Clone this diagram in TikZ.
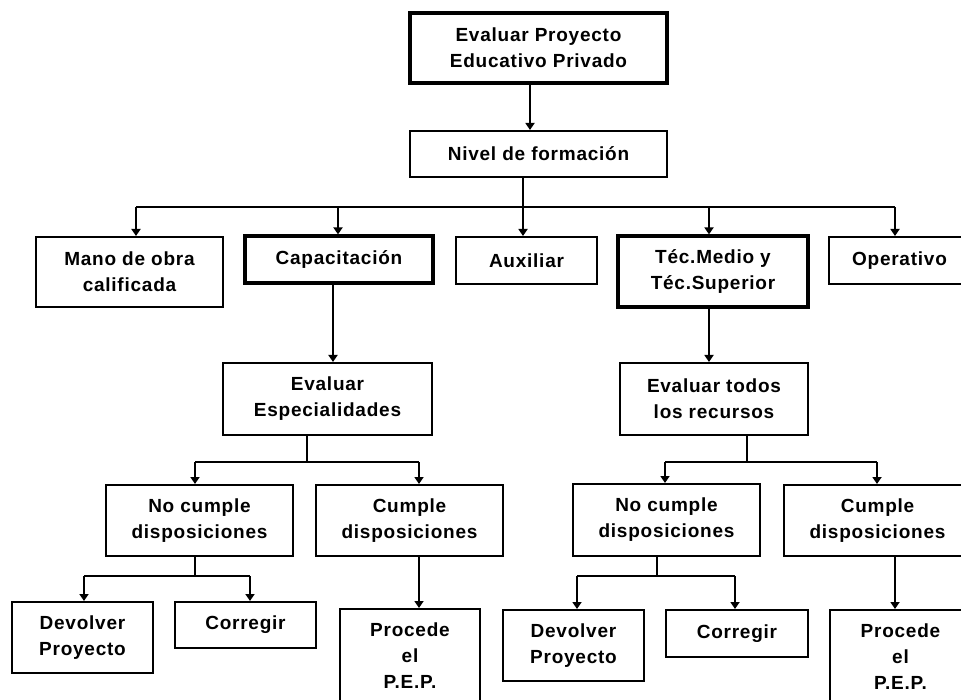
\documentclass[tikz,border=0pt]{standalone}
\usepackage{fontspec}
\usetikzlibrary{arrows.meta}
\newfontfamily\boxfont{Liberation Sans}[LetterSpace=4]
\begin{document}
\begin{tikzpicture}[x=1pt,y=-1pt,
  box/.style={draw, line width=2pt, inner sep=0pt, align=center,
    font=\boxfont\bfseries\fontsize{19}{26}\selectfont},
  thickbox/.style={box, line width=3.2pt},
  link/.style={line width=2pt},
  thinlink/.style={line width=1.2pt},
  arr/.style={line width=2pt, -{Triangle[width=9pt,length=7pt]}}]
\useasboundingbox (0,0) rectangle (961,700);
\clip (0,0) rectangle (961,700);

% level 0 and 1
\node[thickbox, minimum width=257, minimum height=70] (top) at (538.5,48) {Evaluar Proyecto\\Educativo Privado};
\node[box, minimum width=257, minimum height=46] (nivel) at (538.5,154) {Nivel de formación};

% level 2
\node[box, minimum width=187, minimum height=70] (mano) at (129.5,272) {Mano de obra\\calificada};
\node[thickbox, minimum width=188, minimum height=47] (cap) at (339,259.5) {Capacitación};
\node[box, minimum width=141, minimum height=47] (aux) at (526.5,260.5) {Auxiliar};
\node[thickbox, minimum width=190, minimum height=71] (tec) at (713,271.5) {Téc.Medio y\\Téc.Superior};
\node[box, minimum width=141, minimum height=47] (oper) at (899.5,260.5) {Operativo};

% level 3
\node[box, minimum width=209, minimum height=72] (esp) at (327.5,399) {Evaluar\\Especialidades};
\node[box, minimum width=188, minimum height=72] (todos) at (714,399) {Evaluar todos\\los recursos};

% level 4
\node[box, minimum width=187, minimum height=71] (nocL) at (199.5,520.5) {No cumple\\disposiciones};
\node[box, minimum width=187, minimum height=71] (cumL) at (409.5,520.5) {Cumple\\disposiciones};
\node[box, minimum width=187, minimum height=72] (nocR) at (666.5,520) {No cumple\\disposiciones};
\node[box, minimum width=187, minimum height=71] (cumR) at (877.5,520.5) {Cumple\\disposiciones};

% level 5
\node[box, minimum width=141, minimum height=71] (devL) at (82.5,637.5) {Devolver\\Proyecto};
\node[box, minimum width=141, minimum height=46] (corL) at (245.5,625) {Corregir};
\node[box, minimum width=140, minimum height=93] (pepL) at (410,655.5) {Procede\\el\\P.E.P.};
\node[box, minimum width=141, minimum height=71] (devR) at (573.5,645.5) {Devolver\\Proyecto};
\node[box, minimum width=142, minimum height=47] (corR) at (737,633.5) {Corregir};
\node[box, minimum width=141, minimum height=93] (pepR) at (900.5,656.5) {Procede\\el\\P.E.P.};

% branching points
\coordinate (t0) at (530,0);
\coordinate (n0) at (523,207);
\coordinate (b1) at (136,207);
\coordinate (b2) at (338,207);
\coordinate (b3) at (523,207);
\coordinate (b4) at (709,207);
\coordinate (b5) at (895,207);
\coordinate (c0) at (333,0);
\coordinate (d0) at (709,0);
\coordinate (e0) at (307,462);
\coordinate (e1) at (195,462);
\coordinate (e2) at (419,462);
\coordinate (f0) at (747,462);
\coordinate (f1) at (665,462);
\coordinate (f2) at (877,462);
\coordinate (g0) at (195,576);
\coordinate (g1) at (84,576);
\coordinate (g2) at (250,576);
\coordinate (h0) at (657,576);
\coordinate (h1) at (577,576);
\coordinate (h2) at (735,576);

% connectors
\draw[arr] (top.south -| t0) -- (nivel.north -| t0);
\draw[link] (nivel.south -| n0) -- (n0);
\draw[link] (b1) -- (b5);
\draw[arr] (b1) -- (b1 |- mano.north);
\draw[arr] (b2) -- (b2 |- cap.north);
\draw[arr] (b3) -- (b3 |- aux.north);
\draw[arr] (b4) -- (b4 |- tec.north);
\draw[arr] (b5) -- (b5 |- oper.north);

\draw[arr] (cap.south -| c0) -- (esp.north -| c0);
\draw[arr] (tec.south -| d0) -- (todos.north -| d0);

\draw[thinlink] (esp.south -| e0) -- (e0);
\draw[link] (e1) -- (e2);
\draw[arr] (e1) -- (e1 |- nocL.north);
\draw[arr] (e2) -- (e2 |- cumL.north);

\draw[link] (todos.south -| f0) -- (f0);
\draw[link] (f1) -- (f2);
\draw[arr] (f1) -- (f1 |- nocR.north);
\draw[arr] (f2) -- (f2 |- cumR.north);

\draw[thinlink] (nocL.south -| g0) -- (g0);
\draw[link] (g1) -- (g2);
\draw[arr] (g1) -- (g1 |- devL.north);
\draw[arr] (g2) -- (g2 |- corL.north);
\draw[arr] (cumL.south -| e2) -- (pepL.north -| e2);

\draw[thinlink] (nocR.south -| h0) -- (h0);
\draw[link] (h1) -- (h2);
\draw[arr] (h1) -- (h1 |- devR.north);
\draw[arr] (h2) -- (h2 |- corR.north);
\draw[arr] (cumR.south -| b5) -- (pepR.north -| b5);
\end{tikzpicture}
\end{document}
